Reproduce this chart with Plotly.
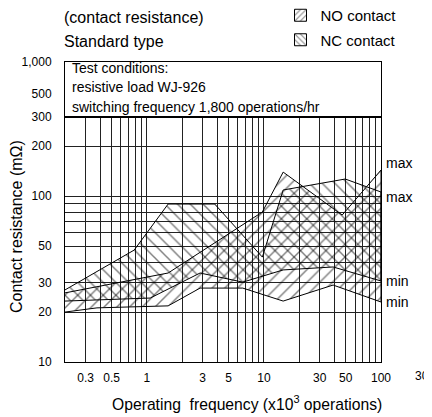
import math

import plotly.graph_objects as go

# operating frequency (x10^3 operations) / contact resistance (mOhm)
nc_max_ops = [0.2, 0.78, 1.52, 3.8, 9.7, 14.6, 49.5, 100]
nc_max = [27.2, 47.3, 89.6, 89.6, 42.9, 108.9, 126.8, 105.9]
nc_min_ops = [0.2, 1.07, 2.85, 6.6, 14.6, 39, 100]
nc_min = [23.3, 24.3, 34.4, 30.3, 35.9, 37.4, 30.8]

no_max_ops = [0.2, 1.52, 9.7, 14.6, 46.6, 100]
no_max = [26.1, 34.4, 80.2, 139.6, 76.9, 143.6]
no_min_ops = [0.2, 0.375, 1.52, 2.85, 6.6, 14.6, 39, 100]
no_min = [20.0, 21.2, 21.8, 27.9, 27.9, 23.3, 29.1, 23.0]

x_ticks = [0.3, 0.5, 1, 3, 5, 10, 30, 50, 100]
x_tick_text = ["0.3", "0.5", "1", "3", "5", "10", "30", "50", "100"]
x_minor = [0.4, 0.6, 0.7, 0.8, 0.9, 2, 4, 6, 7, 8, 9, 20, 40, 60, 70, 80, 90]
y_ticks = [10, 20, 30, 50, 100, 200]
y_tick_text = ["10", "20", "30", "50", "100", "200"]
y_minor = [40, 60, 70, 80, 90]
y_top_ticks = [300, 500, 1000]
y_top_text = ["300", "500", "1,000"]
conditions = ["Test conditions:", "resistive load WJ-926",
              "switching frequency 1,800 operations/hr"]

FONT = "Liberation Sans, Arial, sans-serif"
INK = "#000000"
GRID = "#222222"


def band(x_hi, hi, x_lo, lo, shape, group):
    return go.Scatter(
        x=x_hi + x_lo[::-1],
        y=hi + lo[::-1],
        fill="toself",
        mode="lines",
        line=dict(color=INK, width=1),
        fillcolor="rgba(0,0,0,0)",
        fillpattern=dict(shape=shape, fgcolor=INK, bgcolor="rgba(0,0,0,0)",
                         size=9, solidity=0.16),
        legendgroup=group,
        showlegend=False,
        hoverinfo="skip",
    )


def legend_key(name, shape, group):
    return go.Bar(
        x=[None], y=[None], name=name, legendgroup=group,
        marker=dict(color="white", line=dict(color=INK, width=1),
                    pattern=dict(shape=shape, fgcolor=INK, size=5, solidity=0.25)),
    )


fig = go.Figure()
fig.add_trace(band(no_max_ops, no_max, no_min_ops, no_min, "/", "no"))
fig.add_trace(band(nc_max_ops, nc_max, nc_min_ops, nc_min, "\\", "nc"))
fig.add_trace(legend_key("NO contact", "/", "no"))
fig.add_trace(legend_key("NC contact", "\\", "nc"))
# empty trace so the "test conditions" panel above the grid gets its own axes
fig.add_trace(go.Scatter(x=[], y=[], xaxis="x2", yaxis="y2", showlegend=False,
                         hoverinfo="skip"))

split = 245 / 300

# the page body adds an 8px offset, so the figure is 8px smaller than the window
fig.update_layout(
    width=424,
    height=409,
    margin=dict(l=57, r=51, t=54, b=55, autoexpand=False),
    paper_bgcolor="white",
    plot_bgcolor="white",
    font=dict(family=FONT, color=INK, size=12),
    showlegend=True,
    legend=dict(
        x=0.682, xanchor="left", y=1.21, yanchor="top",
        font=dict(size=15), bgcolor="rgba(0,0,0,0)",
        tracegroupgap=2, itemclick=False, itemdoubleclick=False,
    ),
    xaxis=dict(
        type="log", range=[-0.69897, 2], tickmode="array",
        tickvals=x_ticks, ticktext=x_tick_text,
        showgrid=True, gridcolor=GRID, gridwidth=1,
        minor=dict(tickmode="array", tickvals=x_minor, showgrid=True,
                   gridcolor=GRID, gridwidth=1, ticks=""),
        showline=True, linecolor=INK, linewidth=1, mirror=True,
        ticks="", ticklabelstandoff=5, zeroline=False,
        tickfont=dict(size=12),
    ),
    yaxis=dict(
        type="log", range=[1, 2.4771], domain=[0, split], tickmode="array",
        tickvals=y_ticks, ticktext=y_tick_text,
        showgrid=True, gridcolor=GRID, gridwidth=1,
        minor=dict(tickmode="array", tickvals=y_minor, showgrid=True,
                   gridcolor=GRID, gridwidth=1, ticks=""),
        showline=True, linecolor=INK, linewidth=1, mirror=True,
        ticks="", ticklabelstandoff=10, zeroline=False,
        tickfont=dict(size=12),
    ),
    xaxis2=dict(
        type="log", range=[-0.69897, 2], anchor="y2", matches="x",
        showgrid=False, showticklabels=False, ticks="",
        showline=True, linecolor=INK, linewidth=1, mirror=True, zeroline=False,
    ),
    yaxis2=dict(
        type="log", range=[2.4771, 3], domain=[split, 1], anchor="x2",
        tickmode="array", tickvals=y_top_ticks, ticktext=y_top_text,
        showgrid=False, ticks="", ticklabelstandoff=10,
        showline=True, linecolor=INK, linewidth=1, mirror=True, zeroline=False,
        tickfont=dict(size=12),
    ),
)

notes = [
    dict(text="(contact resistance)", xref="paper", yref="paper", x=-0.01, y=1.147,
         xanchor="left", yanchor="middle", font=dict(size=16)),
    dict(text="Standard type", xref="paper", yref="paper", x=-0.01, y=1.067,
         xanchor="left", yanchor="middle", font=dict(size=16)),
    dict(text="Operating\u00a0 frequency (x10<sup>3</sup> operations)", xref="paper",
         yref="paper", x=0.575, y=-0.137, xanchor="center", yanchor="middle",
         font=dict(size=15.7)),
    dict(text="Contact resistance (m\u03a9)", xref="paper", yref="paper", x=-0.155,
         y=0.45, textangle=-90, xanchor="center", yanchor="middle", font=dict(size=16)),
    dict(text="300", xref="paper", yref="paper", x=1.14, y=-0.047,
         xanchor="center", yanchor="middle", font=dict(size=12)),
]

for line, ypos in zip(conditions, [0.98, 0.917, 0.85]):
    notes.append(dict(text=line, xref="paper", yref="paper", x=0.016, y=ypos,
                      xanchor="left", yanchor="middle", font=dict(size=14)))

# end-of-line labels on the right edge (annotation positions on log axes are log10)
ends = [
    (no_max_ops[-1], no_max[-1], "max", 7),
    (nc_max_ops[-1], nc_max[-1], "max", -5),
    (nc_min_ops[-1], nc_min[-1], "min", 0),
    (no_min_ops[-1], no_min[-1], "min", 0),
]
for xv, yv, label, shift in ends:
    notes.append(dict(text=label, x=math.log10(xv), y=math.log10(yv), xref="x",
                      yref="y", xanchor="left", yanchor="middle", xshift=3,
                      yshift=shift, font=dict(size=14)))

for n in notes:
    n.setdefault("showarrow", False)
fig.update_layout(annotations=notes)

fig.write_html("out.html")
